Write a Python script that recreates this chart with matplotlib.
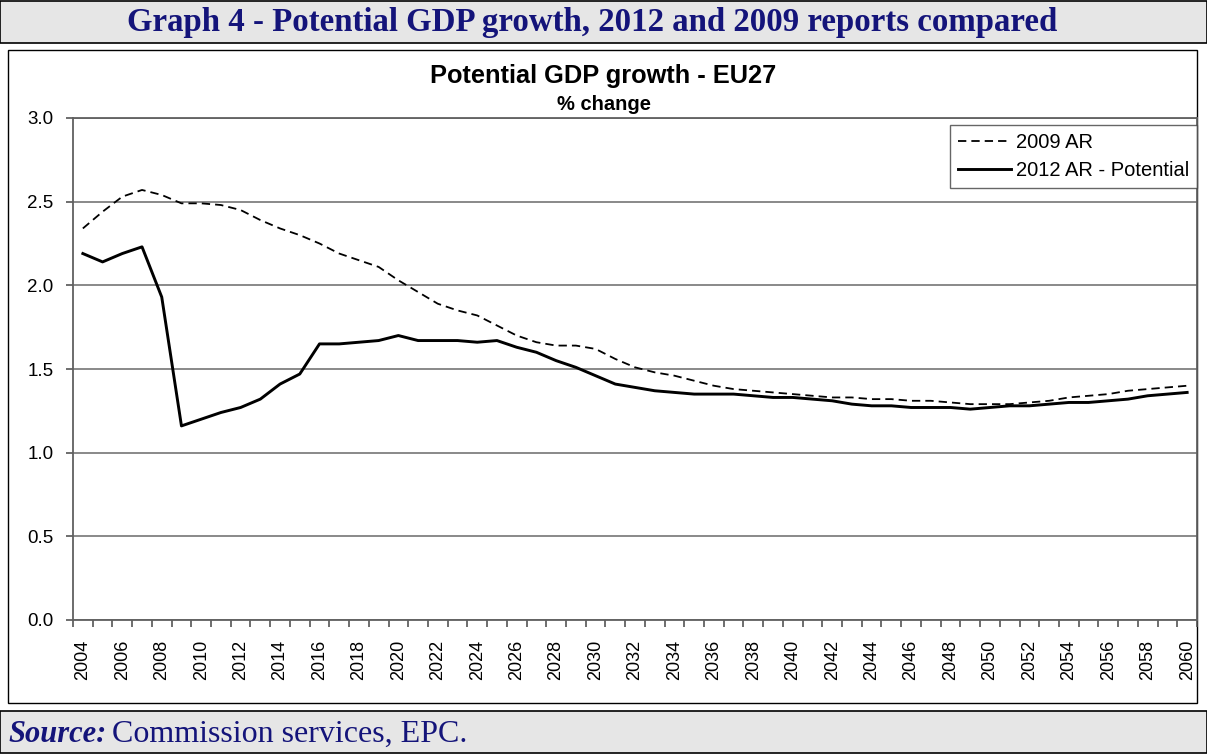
import numpy as np
import matplotlib
matplotlib.use("Agg")
import matplotlib.pyplot as plt
from matplotlib.patches import Rectangle

years = list(range(2004, 2061))

ar_2009 = [2.34, 2.44, 2.53, 2.57, 2.54, 2.49, 2.49, 2.48, 2.45, 2.39,
           2.34, 2.30, 2.25, 2.19, 2.15, 2.11, 2.03, 1.96, 1.89, 1.85,
           1.82, 1.76, 1.70, 1.66, 1.64, 1.64, 1.62, 1.56, 1.51, 1.48,
           1.46, 1.43, 1.40, 1.38, 1.37, 1.36, 1.35, 1.34, 1.33, 1.33,
           1.32, 1.32, 1.31, 1.31, 1.30, 1.29, 1.29, 1.29, 1.30, 1.31,
           1.33, 1.34, 1.35, 1.37, 1.38, 1.39, 1.40]

ar_2012 = [2.19, 2.14, 2.19, 2.23, 1.93, 1.16, 1.20, 1.24, 1.27, 1.32,
           1.41, 1.47, 1.65, 1.65, 1.66, 1.67, 1.70, 1.67, 1.67, 1.67,
           1.66, 1.67, 1.63, 1.60, 1.55, 1.51, 1.46, 1.41, 1.39, 1.37,
           1.36, 1.35, 1.35, 1.35, 1.34, 1.33, 1.33, 1.32, 1.31, 1.29,
           1.28, 1.28, 1.27, 1.27, 1.27, 1.26, 1.27, 1.28, 1.28, 1.29,
           1.30, 1.30, 1.31, 1.32, 1.34, 1.35, 1.36]

tick_years = list(range(2004, 2061, 2))
y_ticks = [0.0, 0.5, 1.0, 1.5, 2.0, 2.5, 3.0]

navy = "#14147a"
band = "#e6e6e6"
W, H = 1207, 755

fig = plt.figure(figsize=(W / 100, H / 100), dpi=100)

def px_rect(x0, y0, x1, y1, **kw):
    # pixel box (top-left origin) -> figure fraction
    return Rectangle((x0 / W, 1 - y1 / H), (x1 - x0) / W, (y1 - y0) / H,
                     transform=fig.transFigure, zorder=-5, **kw)

# header / footer bands and the chart box
fig.patches.append(px_rect(0, 1, W, 43, facecolor=band, edgecolor="black", lw=1.2))
fig.patches.append(px_rect(0, 711, W, 753, facecolor=band, edgecolor="black", lw=1.2))
fig.patches.append(px_rect(8, 50, 1197, 703, facecolor="white", edgecolor="black", lw=1.0))

fig.text(592 / W, 1 - 23 / H, "Graph 4 - Potential GDP growth, 2012 and 2009 reports compared",
         ha="center", va="center", fontsize=23.7, fontweight="bold",
         family="Liberation Serif", color=navy)

fig.text(8 / W, 1 - 734 / H, "Source:", ha="left", va="center", fontsize=22,
         fontweight="bold", style="italic", family="Liberation Serif", color=navy)
fig.text(112 / W, 1 - 734 / H, "Commission services, EPC.", ha="left", va="center",
         fontsize=23, family="Liberation Serif", color=navy)

fig.text(603 / W, 1 - 76 / H, "Potential GDP growth - EU27", ha="center", va="center",
         fontsize=18.3, fontweight="bold", family="Liberation Sans")
fig.text(604 / W, 1 - 105 / H, "% change", ha="center", va="center",
         fontsize=14.5, fontweight="bold", family="Liberation Sans")

ax = fig.add_axes([73 / W, 1 - 620 / H, (1197 - 73) / W, (620 - 118) / H])
ax.plot(years, ar_2009, color="black", lw=1.3, ls=(0, (4.6, 2.8)), label="2009 AR")
ax.plot(years, ar_2012, color="black", lw=2.1, label="2012 AR - Potential")

ax.set_xlim(2003.5, 2060.5)
ax.set_ylim(0, 3.0)
ax.set_yticks(y_ticks)
ax.set_yticklabels([f"{v:.1f}" for v in y_ticks], family="Liberation Sans", fontsize=13.5)
# labels at category centres, tick marks on category boundaries
ax.set_xticks(tick_years)
ax.set_xticklabels([str(y) for y in tick_years], rotation=90,
                   family="Liberation Sans", fontsize=13)
ax.set_xticks(np.arange(2003.5, 2061, 1), minor=True)
ax.tick_params(axis="x", which="major", length=0, pad=14)
ax.tick_params(axis="x", which="minor", direction="out", length=5, width=1.2, color="#555555")
ax.tick_params(axis="y", direction="out", length=5, width=1.2, color="#555555", pad=9)
ax.grid(axis="y", color="#808080", lw=1.3)
ax.set_axisbelow(True)
for s in ax.spines.values():
    s.set_color("#606060")
    s.set_linewidth(1.3)

leg = ax.legend(loc="upper right", bbox_to_anchor=(1.0, 0.987), borderaxespad=0,
                frameon=True, fancybox=False,
                prop={"family": "Liberation Sans", "size": 14.5}, handlelength=2.6,
                borderpad=0.4, labelspacing=0.45, handletextpad=0.25)
leg.get_frame().set_edgecolor("#404040")
leg.get_frame().set_linewidth(1.0)

fig.savefig("out.png", dpi=100)
